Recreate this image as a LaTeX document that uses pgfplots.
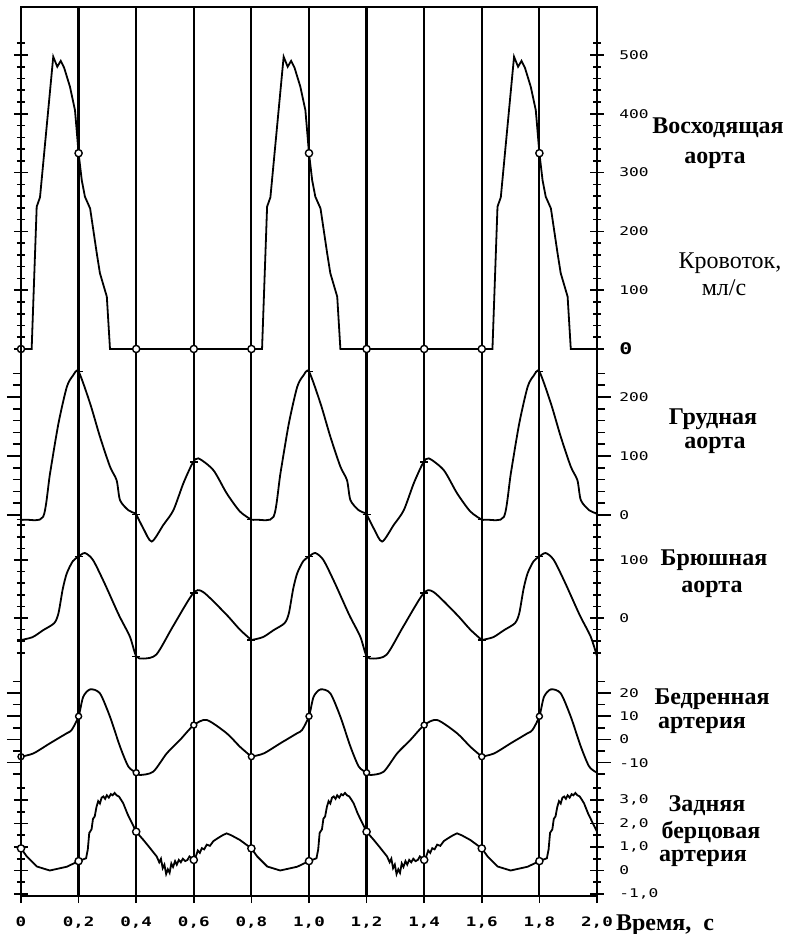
\documentclass[border=0pt]{standalone}
\usepackage{fontspec}
\setmainfont{Liberation Serif}
\newfontfamily\tickfont[FakeStretch=1.35]{DejaVu Sans Mono}
\usepackage{pgfplots}
\usepackage{pgfplotstable}
\pgfplotsset{compat=1.18}

% one cardiac cycle (0.8 s) of each curve
\pgfplotstableread{
t v
0 0
0.037 0
0.0545 242
0.066 258
0.112 497
0.126 480
0.138 490
0.150 478
0.170 446
0.1875 406
0.2 333
0.211 287
0.222 259
0.240 239
0.263 163
0.274 129
0.298 89
0.309 0
0.4 0
0.8 0
}\asc
\pgfplotstableread{
t v
0 -8
0.02 -8
0.077 -3
0.101 71
0.130 155
0.159 217
0.180 236
0.200 243
0.240 189
0.274 133
0.309 82
0.332 59
0.344 25
0.373 8
0.396 3
0.4 1
0.425 -23
0.454 -45
0.494 -17
0.529 8
0.564 54
0.596 88
0.616 96
0.668 76
0.714 37
0.760 6
0.8 -8
}\thor
\pgfplotstableread{
t v
0 -38
0.04 -33
0.077 -21
0.115 -9
0.13 8
0.145 50
0.159 77
0.18 98
0.2 106
0.222 112
0.25 100
0.29 60
0.34 5
0.378 -32
0.4 -66
0.425 -70
0.47 -63
0.527 -15
0.597 42
0.632 45
0.713 6
0.76 -20
0.8 -38
}\abd
\pgfplotstableread{
t v
0 -7.4
0.043 -6
0.101 -1.6
0.159 2.7
0.176 4.1
0.2 10
0.216 18.4
0.24 21.6
0.274 19.9
0.309 9.8
0.344 -3.1
0.373 -11.7
0.4 -14.3
0.413 -15.3
0.459 -13.9
0.506 -6
0.552 -0.2
0.6 6.2
0.645 8.4
0.714 2.7
0.76 -3.1
0.8 -7.4
}\fem
\pgfplotstableread{
t v
0 0.94
0.02 0.6
0.055 0.17
0.10 0.0
0.159 0.16
0.2 0.4
0.226 0.52
0.232 0.9
0.237 1.6
0.245 1.75
0.250 2.2
0.256 2.3
0.262 2.7
0.268 2.95
0.274 2.85
0.280 3.1
0.286 3.15
0.292 3.05
0.298 3.2
0.305 3.1
0.312 3.25
0.318 3.2
0.325 3.3
0.332 3.2
0.340 3.15
0.348 3.0
0.355 2.86
0.37 2.4
0.4 1.65
0.425 1.3
0.445 1.0
0.471 0.6
0.48 0.35
0.486 0.5
0.492 0.1
0.498 0.25
0.504 -0.15
0.510 0.05
0.516 -0.1
0.522 0.3
0.528 0.15
0.535 0.4
0.541 0.25
0.548 0.45
0.555 0.35
0.562 0.5
0.570 0.4
0.578 0.45
0.585 0.6
0.6 0.45
0.607 0.6
0.614 0.85
0.621 0.75
0.628 0.95
0.636 0.9
0.645 1.1
0.656 1.05
0.668 1.25
0.68 1.35
0.70 1.5
0.714 1.58
0.73 1.5
0.76 1.3
0.8 0.94
}\tib

\pgfplotsset{
  base/.style={scale only axis, width=288pt, height=444.5pt, xmin=0, xmax=2,
    clip=false, axis line style={line width=1.1pt},
    tick align=center, yticklabel pos=right, xtick=\empty,
    every tick/.style={black, line width=0.8pt},
    major tick length=7pt, minor tick length=4pt,
    yticklabel style={font=\tickfont\fontsize{6}{7}\selectfont, anchor=west, inner sep=0pt, xshift=7.5pt}},
  curve/.style={black, line width=0.9pt, mark=none, restrict x to domain=0:2.001},
  scurve/.style={curve, smooth, tension=0.45},
  circ/.style={only marks, mark=*, mark size=1.8pt, mark options={fill=white, draw=black, line width=0.7pt}},
  crs/.style={only marks, mark=+, mark size=2pt, mark options={black, line width=0.7pt}},
}

\begin{document}
\begin{tikzpicture}
\useasboundingbox (-10.5pt,-19pt) rectangle (382.5pt,448pt);

% frame, time grid, time axis
\begin{axis}[base, ymin=0, ymax=1, ytick=\empty,
  xtick={0,0.2,0.4,0.6,0.8,1.0,1.2,1.4,1.6,1.8,2.0},
  xticklabels={0,{0,2},{0,4},{0,6},{0,8},{1,0},{1,2},{1,4},{1,6},{1,8},{2,0}},
  xtick pos=left, tick align=outside, major tick length=3.5pt,
  xmajorgrids, major grid style={black, line width=1.1pt},
  xticklabel style={font=\tickfont\fontsize{6.5}{7}\selectfont\bfseries, yshift=-3.5pt}]
\end{axis}

% ascending aorta
\begin{axis}[base, ymin=-930.27, ymax=581.63,
  ytick={0,100,200,300,400,500},
  yticklabels={\textbf{\fontsize{8}{8}\selectfont 0},100,200,300,400,500},
  minor ytick={20,40,...,520}]
\addplot[curve] table[x=t, y=v] {\asc};
\addplot[curve] table[x expr=\thisrow{t}+0.8, y=v] {\asc};
\addplot[curve] table[x expr=\thisrow{t}+1.6, y=v] {\asc};
\addplot[circ] coordinates {(0,0) (0.2,333) (0.4,0) (0.6,0) (0.8,0) (1.0,333) (1.2,0) (1.4,0) (1.6,0) (1.8,333)};
\end{axis}

% thoracic aorta
\begin{axis}[base, ymin=-645.76, ymax=861.02, tick align=outside,
  ytick={0,100,200}, yticklabels={0,100,200},
  minor ytick={20,40,...,240},
  yticklabel style={xshift=-3.5pt}]
\addplot[scurve] table[x=t, y=v] {\thor};
\addplot[scurve] table[x expr=\thisrow{t}+0.8, y=v] {\thor};
\addplot[scurve] table[x expr=\thisrow{t}+1.6, y=v] {\thor};
\addplot[crs] coordinates {(0,-8) (0.2,243) (0.4,1) (0.6,90) (0.8,-8) (1.0,243) (1.2,1) (1.4,90) (1.6,-8) (1.8,243)};
\end{axis}

% abdominal aorta
\begin{axis}[base, ymin=-479.31, ymax=1053.45,
  ytick={0,100}, yticklabels={0,100},
  minor ytick={-60,-40,...,160}]
\addplot[scurve] table[x=t, y=v] {\abd};
\addplot[scurve] table[x expr=\thisrow{t}+0.8, y=v] {\abd};
\addplot[scurve] table[x expr=\thisrow{t}+1.6, y=v] {\abd};
\addplot[crs] coordinates {(0,-38) (0.2,106) (0.4,-66) (0.6,43) (0.8,-38) (1.0,106) (1.2,-66) (1.4,43) (1.6,-38) (1.8,106)};
\end{axis}

% femoral artery
\begin{axis}[base, ymin=-67.46, ymax=315.73, tick align=outside,
  ytick={-10,0,10,20}, yticklabels={-10,0,10,20},
  minor ytick={-15,-5,5,15,25},
  yticklabel style={xshift=-3.5pt}]
\addplot[scurve] table[x=t, y=v] {\fem};
\addplot[scurve] table[x expr=\thisrow{t}+0.8, y=v] {\fem};
\addplot[scurve] table[x expr=\thisrow{t}+1.6, y=v] {\fem};
\addplot[circ, mark size=1.5pt] coordinates {(0,-7.4) (0.2,10) (0.4,-14.3) (0.6,6.2) (0.8,-7.4) (1.0,10) (1.2,-14.3) (1.4,6.2) (1.6,-7.4) (1.8,10)};
\end{axis}

% posterior tibial artery
\begin{axis}[base, ymin=-1.0851, ymax=36.745,
  ytick={-1,0,1,2,3}, yticklabels={{-1,0},0,{1,0},{2,0},{3,0}},
  minor ytick={-0.5,0.5,1.5,2.5,3.5}]
\addplot[curve] table[x=t, y=v] {\tib};
\addplot[curve] table[x expr=\thisrow{t}+0.8, y=v] {\tib};
\addplot[curve] table[x expr=\thisrow{t}+1.6, y=v] {\tib};
\addplot[circ] coordinates {(0,0.94) (0.2,0.4) (0.4,1.65) (0.6,0.45) (0.8,0.94) (1.0,0.4) (1.2,1.65) (1.4,0.45) (1.6,0.94) (1.8,0.4)};
\end{axis}

% names (pixel coordinates of the reference)
\begin{scope}[x=0.5pt, y=-0.5pt, shift={(-10.5pt,448pt)}, every node/.style={inner sep=0pt, font=\fontsize{12}{14}\selectfont\bfseries}]
\node at (718,128) {Восходящая};
\node at (715,160) {аорта};
\node[font=\fontsize{12}{14}\selectfont] at (730,263) {Кровоток,};
\node[font=\fontsize{12}{14}\selectfont] at (724,288) {мл/с};
\node at (713,419) {Грудная};
\node at (715,445) {аорта};
\node at (714,560) {Брюшная};
\node at (712,589) {аорта};
\node at (712,699) {Бедренная};
\node at (702,725) {артерия};
\node at (707,806) {Задняя};
\node at (711,832) {берцовая};
\node at (703,858) {артерия};
\node at (665,925) {Время,\ \ с};
\end{scope}
\end{tikzpicture}
\end{document}
